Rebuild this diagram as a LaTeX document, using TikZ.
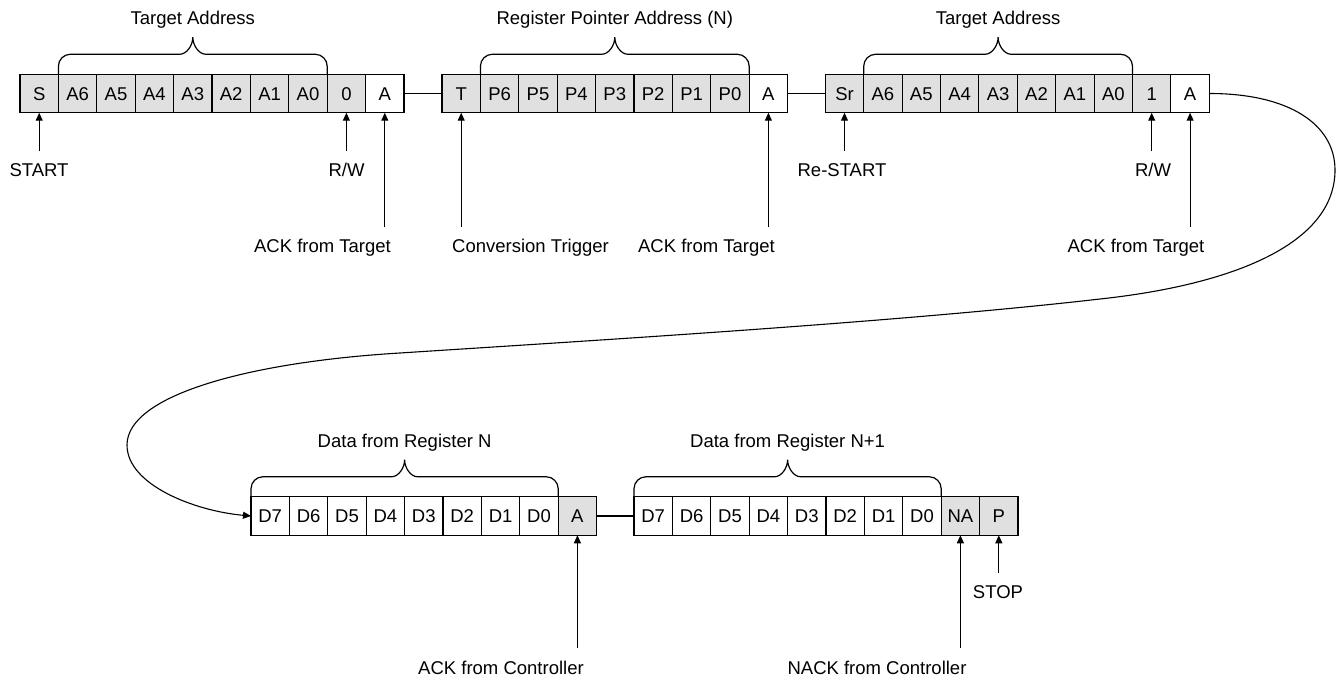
\documentclass[tikz,border=0pt]{standalone}
\usepackage{fontspec}
\setmainfont{Liberation Sans}
\usetikzlibrary{arrows.meta,calc}
\definecolor{cellgray}{RGB}{224,224,224}
\newcommand\bracegrp[4]{%
  \coordinate (#4L) at (#1.north west);
  \coordinate (#4R) at (#2.north east);
  \coordinate (#4M) at ($(#4L)!0.5!(#4R)$);
  \draw[brace] (#4L) -- ($(#4L)+(0,-8)$) .. controls ($(#4L)+(0,-14.6)$) and ($(#4L)+(5.4,-20)$) .. ($(#4L)+(12,-20)$)
    -- ($(#4M)+(-13,-20)$) .. controls ($(#4M)+(-6,-20)$) and ($(#4M)+(0,-29)$) .. ($(#4M)+(0,-37)$)
    .. controls ($(#4M)+(0,-29)$) and ($(#4M)+(6,-20)$) .. ($(#4M)+(13,-20)$)
    -- ($(#4R)+(-12,-20)$) .. controls ($(#4R)+(-5.4,-20)$) and ($(#4R)+(0,-14.6)$) .. ($(#4R)+(0,-8)$) -- (#4R);
  \node[lbl] (#4T) at ($(#4M)+(0,-56)$) {#3};
}
\begin{document}
\begin{tikzpicture}[x=1pt,y=-1pt,
  every node/.style={font=\fontsize{18.5}{21}\selectfont},
  cell/.style={draw, line width=1.1pt, minimum width=38.4pt, minimum height=38.5pt, inner sep=0pt, outer sep=0pt, text height=13.2pt, text depth=0pt},
  link/.style={line width=1.1pt},
  arr/.style={line width=1.1pt, -{Triangle[length=8pt,width=7pt]}},
  lbl/.style={inner sep=0pt, outer sep=0pt, text height=13.2pt, text depth=0pt},
  brace/.style={line width=1.2pt}
]
\useasboundingbox (0,0) rectangle (1341,682);

% Row 1, group 1
\foreach [count=\i] \t/\f in {S/cellgray, A6/cellgray, A5/cellgray, A4/cellgray, A3/cellgray, A2/cellgray, A1/cellgray, A0/cellgray, 0/cellgray, A/white}
  \node[cell, fill=\f] (a\i) at ({20+19.2+38.4*(\i-1)},93.5) {\t};
% Row 1, group 2
\foreach [count=\i] \t/\f in {T/cellgray, P6/cellgray, P5/cellgray, P4/cellgray, P3/cellgray, P2/cellgray, P1/cellgray, P0/cellgray, A/white}
  \node[cell, fill=\f] (b\i) at ({442+19.2+38.4*(\i-1)},93.5) {\t};
% Row 1, group 3
\foreach [count=\i] \t/\f in {Sr/cellgray, A6/cellgray, A5/cellgray, A4/cellgray, A3/cellgray, A2/cellgray, A1/cellgray, A0/cellgray, 1/cellgray, A/white}
  \node[cell, fill=\f] (c\i) at ({825.3+19.2+38.4*(\i-1)},93.5) {\t};
% Row 2, group 4
\foreach [count=\i] \t/\f in {D7/white, D6/white, D5/white, D4/white, D3/white, D2/white, D1/white, D0/white, A/cellgray}
  \node[cell, fill=\f] (d\i) at ({251+19.2+38.4*(\i-1)},516) {\t};
% Row 2, group 5
\foreach [count=\i] \t/\f in {D7/white, D6/white, D5/white, D4/white, D3/white, D2/white, D1/white, D0/white, NA/cellgray, P/cellgray}
  \node[cell, fill=\f] (e\i) at ({634+19.2+38.4*(\i-1)},516) {\t};

% links between groups
\draw[link] (a10.east) -- (b1.west);
\draw[link] (b9.east) -- (c1.west);
\draw[link] (d9.east) -- (e1.west);

% braces
\bracegrp{a2}{a8}{Target Address}{br1}
\bracegrp{b2}{b8}{Register Pointer Address (N)}{br2}
\bracegrp{c2}{c8}{Target Address}{br3}
\bracegrp{d1}{d8}{Data from Register N}{br4}
\bracegrp{e1}{e8}{Data from Register N+1}{br5}

% labels
\node[lbl] (lstart) at (39,169.5) {START};
\node[lbl] (lrw1) at (346.5,169.5) {R/W};
\node[lbl] (lack1) at (322.5,246) {ACK from Target};
\node[lbl] (lconv) at (530.5,246) {Conversion Trigger};
\node[lbl] (lack2) at (706.5,246) {ACK from Target};
\node[lbl] (lrestart) at (842,169.5) {Re-START};
\node[lbl] (lrw2) at (1153,169.5) {R/W};
\node[lbl] (lack3) at (1136,246) {ACK from Target};
\node[lbl] (lackc) at (501,668) {ACK from Controller};
\node[lbl] (lnack) at (877,668) {NACK from Controller};
\node[lbl] (lstop) at (998,592) {STOP};

% arrows
\draw[arr] ($(lstart.north -| a1.south)+(0,-12)$) -- (a1.south);
\draw[arr] ($(lrw1.north -| a9.south)+(0,-12)$) -- (a9.south);
\draw[arr] ($(lack1.north -| a10.south)+(0,-12.5)$) -- (a10.south);
\draw[arr] ($(lconv.north -| b1.south)+(0,-12.5)$) -- (b1.south);
\draw[arr] ($(lack2.north -| b9.south)+(0,-12.5)$) -- (b9.south);
\draw[arr] ($(lrestart.north -| c1.south)+(0,-12)$) -- (c1.south);
\draw[arr] ($(lrw2.north -| c9.south)+(0,-12)$) -- (c9.south);
\draw[arr] ($(lack3.north -| c10.south)+(0,-12.5)$) -- (c10.south);
\draw[arr] ($(lackc.north -| d9.south)+(0,-13)$) -- (d9.south);
\draw[arr] ($(lnack.north -| e9.south)+(0,-13)$) -- (e9.south);
\draw[arr] ($(lstop.north -| e10.south)+(0,-12.5)$) -- (e10.south);

% long connector from row 1 to row 2
\draw[arr] (c10.east) .. controls (1290,93.5) and (1335,125) .. (1335,170)
  .. controls (1335,245) and (1230,285) .. (1100,299)
  .. controls (900,322) and (600,340) .. (400,353)
  .. controls (250,362) and (127,395) .. (127,445)
  .. controls (127,485) and (195,511) .. (d1.west);
\end{tikzpicture}
\end{document}
